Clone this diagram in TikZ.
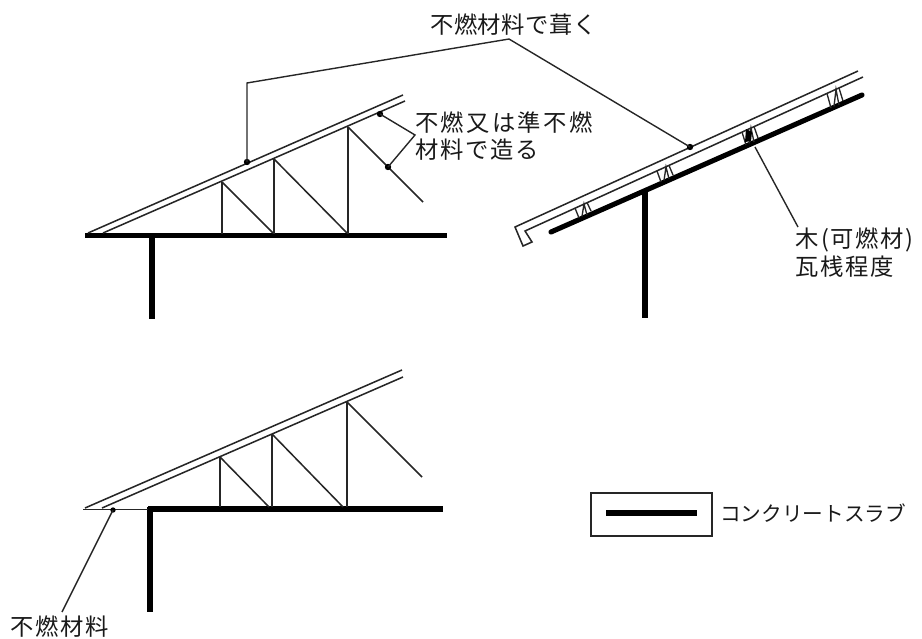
\documentclass[tikz,border=0pt]{standalone}
\usepackage{fontspec}
\newfontfamily\jpA[LetterSpace=2.0]{Noto Sans CJK JP}
\newfontfamily\jpB[LetterSpace=10.0]{Noto Sans CJK JP}
\newfontfamily\jpC{Noto Sans CJK JP}
\newfontfamily\jpD[LetterSpace=7.0]{Noto Sans CJK JP}
\tikzset{
  thinline/.style={line width=1.15pt,black!85},
  thickline/.style={line width=3.8pt,black},
  leader/.style={line width=1.05pt,black!85,line join=miter},
  dotmark/.style={circle,fill=black,inner sep=0pt,minimum size=4.8pt},
  lbl/.style={inner sep=0pt,anchor=west,text=black!90},
}
\begin{document}
\begin{tikzpicture}[x=0.75pt,y=-0.75pt]
\useasboundingbox (0,0) rectangle (922,639);
% --- upper left
\draw[thickline] (85,235.5) -- (447,235.5);
\draw[thickline] (152,235.5) -- (152,319);
\draw[thinline] (88,233) -- (403,95);
\draw[thinline] (103,233) -- (405,101);
\draw[thinline] (222,182) -- (222,234) (274,159) -- (274,234) (348,127) -- (348,234);
\draw[thinline] (222,182) -- (273,233) (274,159) -- (347,233) (348,127) -- (423,202);
% --- lower left
\draw[thickline] (148,509) -- (443,509);
\draw[thickline] (150,507) -- (150,612);
\draw[thinline] (83,509.5) -- (148,509.5);
\draw[thinline] (85,508) -- (402,370);
\draw[thinline] (102,508) -- (403,377);
\draw[thinline] (220,457) -- (220,507) (272,434) -- (272,507) (347,402) -- (347,507);
\draw[thinline] (220,457) -- (269,507) (272,434) -- (343,507) (347,402) -- (422,477);
% --- right roof
\draw[thickline,line cap=round] (551,232) -- (862,95);
\draw[thickline] (645,190) -- (645,318);
\draw[thinline,line join=miter] (858,71) -- (515,227) -- (523,246) -- (532,242) -- (525,231) -- (863,77);
\foreach \xa/\ya/\yb in {575/208/218, 657/171/182, 742/132/145, 827/93.5/108}{
  \draw[line width=1pt,black!85] (\xa,\ya) -- (\xa+4,\yb) (\xa+12,\ya-5.5) -- (\xa+16,\yb-7)
     (\xa+7,\yb-1.5) -- (\xa+9,\ya-4) -- (\xa+12,\yb-3);
}
\fill[black] (746,129) -- (752,132) -- (751,141) -- (745,142) -- cycle;
% --- labels
\node[lbl,font=\fontsize{17.5}{20}\selectfont\jpA] (t1) at (430,25) {不燃材料で葺く};
\node[lbl,font=\fontsize{17.5}{20}\selectfont\jpB] (t2) at (415,123) {不燃又は準不燃};
\node[lbl,font=\fontsize{17.5}{20}\selectfont\jpD] (t3) at (415,150) {材料で造る};
\node[lbl,font=\fontsize{17.5}{20}\selectfont\jpD] (t4) at (795,240) {木\kern2pt(\kern1pt可燃材\kern1pt)};
\node[lbl,font=\fontsize{17.5}{20}\selectfont\jpD] (t5) at (795,267) {瓦桟程度};
\node[lbl,font=\fontsize{17.5}{20}\selectfont\jpD] (t6) at (10,627) {不燃材料};
\node[lbl,font=\fontsize{15.5}{20}\selectfont\jpC] (t7) at (720,513) {コンクリートスラブ};
% --- leaders
\node[dotmark] (d1) at (247,162) {};
\node[dotmark] (d2) at (690,147) {};
\node[dotmark] (d3) at (380,114) {};
\node[dotmark] (d4) at (388,167) {};
\node[dotmark,minimum size=4pt] (d5) at (113,510) {};
\coordinate (k1) at (247,83);
\coordinate (k2) at (509,39);
\coordinate (k3) at (415,135);
\coordinate (w1) at (755,147);
\coordinate (w2) at (798,227);
\coordinate (f1) at (62,612);
\draw[leader] (d1.center) -- (k1) -- (k2) -- (d2.center);
\draw[leader] (d3.center) -- (k3) -- (d4.center);
\draw[leader] (w1) -- (w2);
\draw[leader] (d5.center) -- (f1);
% --- legend
\node[draw=black!85,line width=1.15pt,minimum width=90.75pt,minimum height=32pt,inner sep=0pt] (box) at (651.5,514.5) {};
\coordinate (la) at (606,513);
\coordinate (lb) at (697,513);
\draw[line width=4.4pt] (la) -- (lb);
\end{tikzpicture}
\end{document}
